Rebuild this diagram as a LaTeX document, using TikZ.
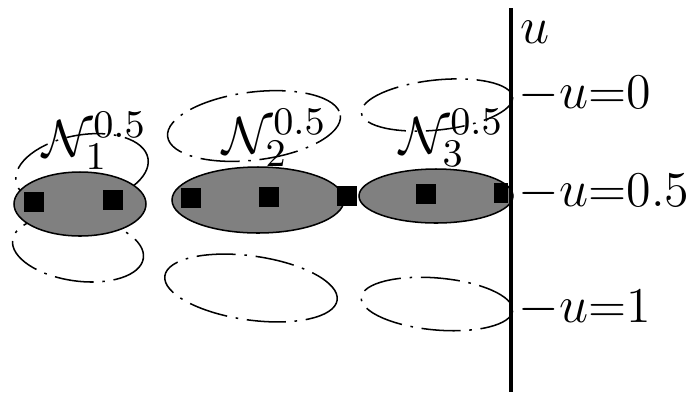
\documentclass[tikz,border=0pt]{standalone}
\begin{document}
\begin{tikzpicture}[
    x=0.23pt, y=-0.23pt,
    every node/.style={font=\fontsize{11.5}{14}\selectfont},
    blob/.style={draw, fill=gray, line width=0.35pt},
    ghost/.style={line width=0.35pt,
        dash pattern=on 9pt off 2pt on 0.6pt off 2pt},
    vert/.style={fill=black, inner sep=0pt, minimum size=4.4pt},
    lvl/.style={anchor=base west, inner sep=0pt},
    nlbl/.style={anchor=base west, inner sep=0pt,
        font=\fontsize{13}{16}\selectfont}
]
\useasboundingbox (0,0) rectangle (686,396);

% Nachbarschaften bei u=0 und u=1
\draw[ghost, rotate around={10:(82,170)}]  (82,170)  ellipse [x radius=67, y radius=35];
\draw[ghost, rotate around={-8:(78,249)}]  (78,249)  ellipse [x radius=66, y radius=32];
\draw[ghost, rotate around={7:(254,126)}]  (254,126) ellipse [x radius=87, y radius=34];
\draw[ghost, rotate around={-8:(251,288)}] (251,288) ellipse [x radius=87, y radius=32];
\draw[ghost, rotate around={6:(437,105)}]  (437,105) ellipse [x radius=76, y radius=25];
\draw[ghost, rotate around={-5:(437,304)}] (437,304) ellipse [x radius=76, y radius=26];

% Nachbarschaften bei u=0.5
\draw[blob] (80,204)  ellipse [x radius=66, y radius=32];
\draw[blob] (258,200) ellipse [x radius=86, y radius=33];
\draw[blob] (436,196) ellipse [x radius=77, y radius=27];

% Knoten
\node[vert] (a1) at (34,202)  {};
\node[vert] (a2) at (113,200) {};
\node[vert] (b1) at (191,198) {};
\node[vert] (b2) at (269,197) {};
\node[vert] (b3) at (347,196) {};
\node[vert] (c1) at (426,194) {};
\node[vert, minimum width=3.2pt] (c2) at (501,193) {};

% Beschriftungen
\node[nlbl] (n1) at (42,156)  {$\mathcal{N}_1^{0.5}$};
\node[nlbl] (n2) at (222,153) {$\mathcal{N}_2^{0.5}$};
\node[nlbl] (n3) at (399,153) {$\mathcal{N}_3^{0.5}$};

% Achse
\draw[line width=0.7pt] (511,8) -- (511,392);
\node[lvl] (uax) at (520,43)  {$u$};
\node[lvl] (u0)  at (518,108) {$-u$=0};
\node[lvl] (u05) at (518,206) {$-u$=0.5};
\node[lvl] (u1)  at (518,322) {$-u$=1};

\end{tikzpicture}
\end{document}
